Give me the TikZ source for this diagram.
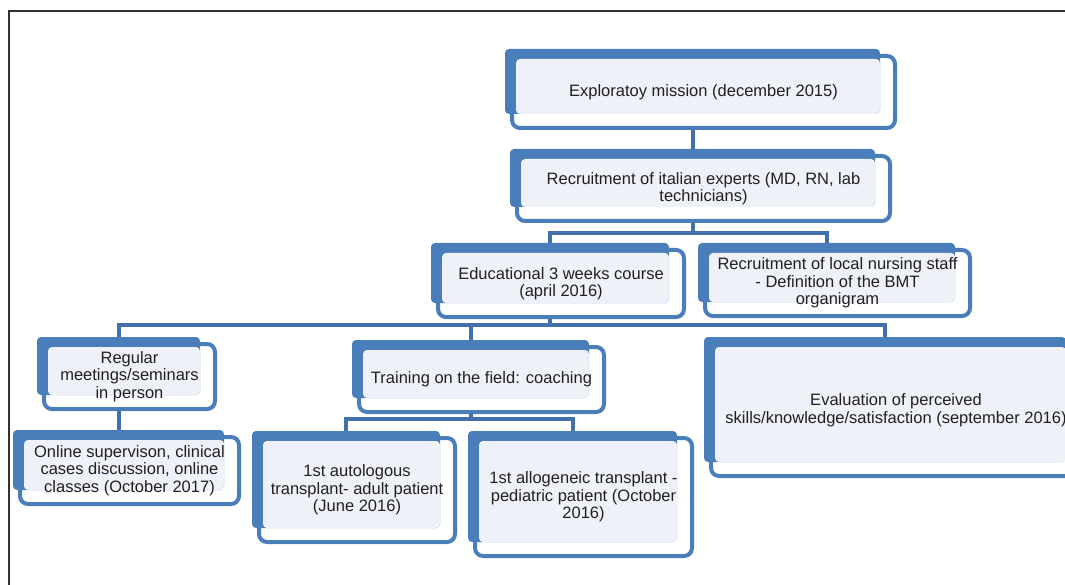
\documentclass[tikz,border=0pt]{standalone}
\usepackage{fontspec}
\setmainfont{Liberation Sans}
\usetikzlibrary{backgrounds}
\definecolor{boxblue}{RGB}{74,126,187}
\definecolor{connblue}{RGB}{66,112,170}
\definecolor{lightfill}{RGB}{238,242,248}
\definecolor{txtgray}{RGB}{35,31,32}
\definecolor{framegray}{RGB}{50,50,50}
% #1 name, #2 x1, #3 y1, #4 x2, #5 y2 (back box, px), #6 text
\newcommand\orgnode[6]{%
  \node[backbox, minimum width={#4-#2}, minimum height={#5-#3}] (#1b) at ({(#2+#4)/2},{(#3+#5)/2}) {};
  \node[lightbox, minimum width={#4-#2-11}, minimum height={#5-#3-10}] (#1l) at ({(#2+11+#4)/2},{(#3+10+#5)/2}) {};
  \node[frontbox, minimum width={#4-#2+8}, minimum height={#5-#3+7}] (#1) at ({(#2+7+#4+15)/2},{(#3+7+#5+14)/2}) {#6};
}
\begin{document}
\begin{tikzpicture}[x=1pt,y=-1pt,
  backbox/.style={fill=boxblue, rounded corners=4pt, inner sep=0pt, outer sep=0pt},
  lightbox/.style={fill=lightfill, rounded corners=4pt, inner sep=0pt, outer sep=0pt},
  frontbox/.style={draw=boxblue, line width=4pt, rounded corners=8pt, inner sep=0pt, outer sep=0pt,
    align=center, text=txtgray, font=\fontsize{16.5}{17.5}\selectfont},
  conn/.style={draw=connblue, line width=4pt},
  frame/.style={draw=framegray, line width=1.5pt}]
\useasboundingbox (0,0) rectangle (1065,585);
\clip (0,0) rectangle (1065,585);
\draw[frame] (9,585) -- (9,11) -- (1066,11);

\orgnode{b1}{505}{49}{880}{114}{Exploratoy mission (december 2015)}
\orgnode{b2}{510}{149}{875}{207}{Recruitment of italian experts (MD, RN, lab\\technicians)}
\orgnode{b3}{431}{243}{669}{303}{Educational 3 weeks course\\(april 2016)}
\orgnode{b4}{698}{243}{955}{302}{Recruitment of local nursing staff\\- Definition of the BMT\\organigram}
\orgnode{c1}{37}{337}{200}{395}{Regular\\meetings/seminars\\in person}
\orgnode{c2}{352}{340}{589}{398}{Training on the field: coaching}
\orgnode{c3}{704}{337}{1066}{462}{Evaluation of perceived\\skills/knowledge/satisfaction (september 2016)}
\orgnode{d1}{13}{430}{224}{490}{Online supervison, clinical\\cases discussion, online\\classes (October 2017)}
\orgnode{d2}{252}{431}{440}{528}{1st autologous\\transplant- adult patient\\(June 2016)}
\orgnode{d3}{468}{431}{677}{542}{1st allogeneic transplant -\\pediatric patient (October\\2016)}

\coordinate (j2) at (0,233);
\coordinate (j3) at (0,325);
\coordinate (j4) at (0,419);
\begin{scope}[on background layer]
  \draw[conn] (b1b.south |- b1.south) -- (b2b.north);
  \draw[conn] (b2b.south |- b2.south) -- (b2b.south |- j2);
  \draw[conn] (b3b.north) -- (b3b.north |- j2) -| (b4b.north);
  \draw[conn] (b3b.south |- b3.south) -- (b3b.south |- j3);
  \draw[conn] (c1b.north) -- (c1b.north |- j3) -| (c3b.north);
  \draw[conn] (c2b.north) -- (c2b.north |- j3);
  \draw[conn] (c1b.south |- c1.south) -- (d1b.north);
  \draw[conn] (c2b.south |- c2.south) -- (c2b.south |- j4);
  \draw[conn] (d2b.north) -- (d2b.north |- j4) -| (d3b.north);
\end{scope}
\end{tikzpicture}
\end{document}
